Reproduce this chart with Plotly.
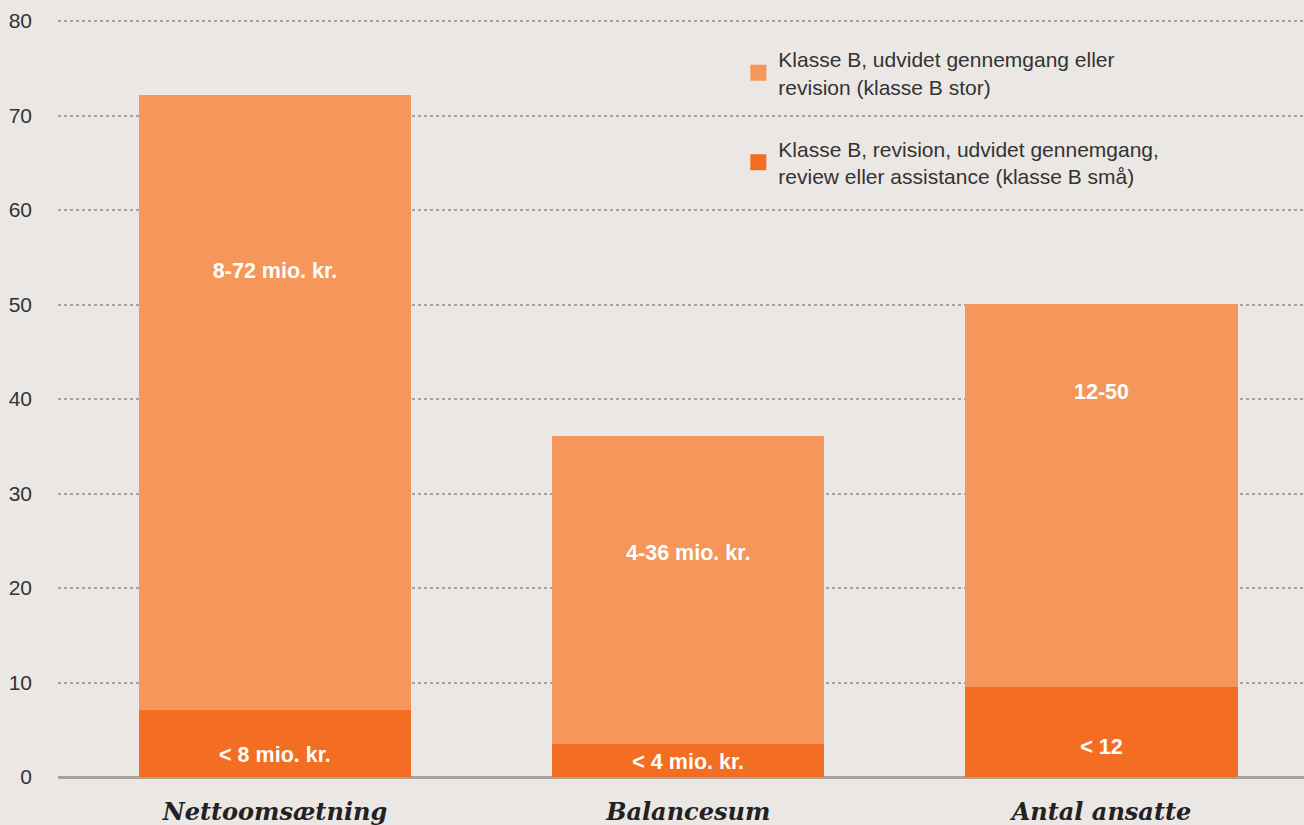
import plotly.graph_objects as go

categories = ["Nettoomsætning", "Balancesum", "Antal ansatte"]
small_values = [7.1, 3.5, 9.5]          # klasse B små (dark)
total_values = [72.2, 36.1, 50.1]       # total top of bar
large_values = [t - s for t, s in zip(total_values, small_values)]  # klasse B stor (light)
small_labels = ["< 8 mio. kr.", "< 4 mio. kr.", "< 12"]
large_labels = ["8-72 mio. kr.", "4-36 mio. kr.", "12-50"]
small_label_y = [2.2, 1.4, 3.0]
large_label_y = [53.4, 23.5, 40.6]
y_ticks = [0, 10, 20, 30, 40, 50, 60, 70, 80]

name_small = "Klasse B, revision, udvidet gennemgang,<br>review eller assistance (klasse B små)"
name_large = "Klasse B, udvidet gennemgang eller<br>revision (klasse B stor)"

DARK = "#f36e22"
LIGHT = "#f5975b"
BG = "#ebe7e4"

fig = go.Figure()
fig.add_trace(go.Bar(x=categories, y=small_values, name=name_small, marker_color=DARK,
                     marker_line_width=0, showlegend=False, hoverinfo="skip"))
fig.add_trace(go.Bar(x=categories, y=large_values, name=name_large, marker_color=LIGHT,
                     marker_line_width=0, showlegend=False, hoverinfo="skip"))
fig.add_trace(go.Scatter(x=categories, y=small_label_y, mode="text", text=small_labels,
                         textfont=dict(family="Liberation Sans", size=21.5, color="white", weight="bold"),
                         showlegend=False, hoverinfo="skip"))
fig.add_trace(go.Scatter(x=categories, y=large_label_y, mode="text", text=large_labels,
                         textfont=dict(family="Liberation Sans", size=21.5, color="white", weight="bold"),
                         showlegend=False, hoverinfo="skip"))
# legend entries with larger square swatches
fig.add_trace(go.Scatter(x=[None], y=[None], mode="markers", name=name_large,
                         marker=dict(symbol="square", size=16, color=LIGHT),
                         legendgroup="l", legendrank=1))
fig.add_trace(go.Scatter(x=[None], y=[None], mode="markers", name=name_small,
                         marker=dict(symbol="square", size=16, color=DARK),
                         legendgroup="s", legendrank=2))

fig.update_layout(
    width=1304, height=825,
    barmode="stack", bargap=0.341,
    paper_bgcolor=BG, plot_bgcolor=BG,
    margin=dict(l=58, r=0, t=20, b=48),
    font=dict(family="Liberation Sans", color="#333333", size=21),
    legend=dict(x=0.546, y=0.975, xanchor="left", yanchor="top",
                traceorder="grouped", tracegroupgap=32,
                font=dict(size=21, color="#333333"), bgcolor="rgba(0,0,0,0)",
                itemwidth=30),
    xaxis=dict(
        range=[-0.525, 2.49],
        tickvals=categories,
        ticktext=[f"<b><i>{c}</i></b>" for c in categories],
        tickfont=dict(family="DejaVu Serif", size=24, color="#222222"),
        showgrid=False, zeroline=False, showline=False, ticks="",
        ticklabelstandoff=18,
    ),
    yaxis=dict(
        range=[0, 80.12],
        tickvals=y_ticks,
        tickfont=dict(size=21, color="#333333"),
        showgrid=True, gridcolor="#aaa198", griddash="dot", gridwidth=2,
        zeroline=True, zerolinecolor="#aaa198", zerolinewidth=3,
        ticks="", ticklabelstandoff=25,
    ),
)

fig.write_html("out.html", config={"displayModeBar": False},
               post_script="document.body.style.margin='0';document.body.style.padding='0';")
